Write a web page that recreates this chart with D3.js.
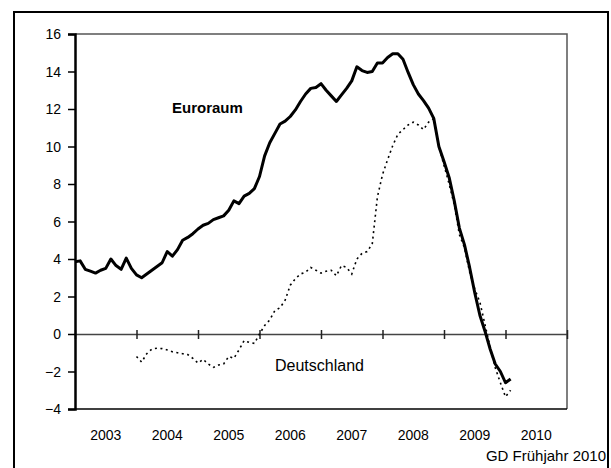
<!DOCTYPE html>
<html>
<head>
<meta charset="utf-8">
<script src="https://cdn.jsdelivr.net/npm/d3@7"></script>
<style>
    body { margin: 0; background: #fff; }
    text { font-family: "Liberation Sans", Arial, sans-serif; fill: #000; }
</style>
</head>
<body>
<div id="Chart_1"></div>
<script>
// years on the x axis, y tick values
let years = [2003, 2004, 2005, 2006, 2007, 2008, 2009, 2010];
let yTicks = [-4, -2, 0, 2, 4, 6, 8, 10, 12, 14, 16];

// monthly values, Euroraum from Jan 2003, Deutschland from Jan 2004
let euroStart = 2003;
let euroValues = [
    3.85, 3.9, 3.45, 3.35, 3.25, 3.4, 3.5, 4.0, 3.65, 3.45, 4.05, 3.5,
    3.15, 3.0, 3.2, 3.4, 3.6, 3.8, 4.4, 4.15, 4.5, 5.0, 5.15, 5.35,
    5.6, 5.8, 5.9, 6.1, 6.2, 6.3, 6.6, 7.1, 6.95, 7.35, 7.5, 7.75,
    8.4, 9.5, 10.2, 10.7, 11.2, 11.35, 11.6, 11.95, 12.4, 12.8, 13.1, 13.15,
    13.35, 13.0, 12.7, 12.4, 12.75, 13.1, 13.5, 14.25, 14.05, 13.95, 14.0, 14.45,
    14.45, 14.75, 14.95, 14.95, 14.65, 13.95, 13.3, 12.8, 12.45, 12.05, 11.5, 10.0,
    9.2, 8.35, 7.1, 5.65, 4.75, 3.55, 2.2, 1.0, 0.15, -0.8, -1.6, -2.0,
    -2.6, -2.4
];
let deStart = 2004;
let deValues = [
    -1.2, -1.5, -1.05, -0.8, -0.76, -0.78, -0.85, -0.95, -1.0, -1.05, -1.1, -1.3,
    -1.55, -1.35, -1.6, -1.78, -1.65, -1.6, -1.2, -1.3, -0.85, -0.35, -0.45, -0.5,
    0.0, 0.45, 0.75, 1.25, 1.4, 1.8, 2.6, 2.95, 3.2, 3.3, 3.55, 3.4,
    3.25, 3.35, 3.4, 3.1, 3.65, 3.55, 3.2, 4.0, 4.3, 4.4, 4.8, 7.3,
    8.5, 9.3, 10.05, 10.65, 10.9, 11.15, 11.3, 11.15, 10.9, 11.3, 11.5, 10.0,
    9.0, 8.0, 6.9, 5.3, 4.6, 3.3, 2.4, 1.7, 0.5, -0.7, -1.8, -2.6,
    -3.35, -3.0
];

draw_chart();

function draw_chart() {
    let width = 611,
        height = 468;
    let margin = {top: 34, right: 44, bottom: 59, left: 75};

    let svg = d3.select("#Chart_1")
        .append("svg")
        .attr("width", width)
        .attr("height", height);

    // outer frame
    svg.append("rect")
        .attr("x", 14)
        .attr("y", 12)
        .attr("width", 594)
        .attr("height", 470)
        .attr("fill", "none")
        .attr("stroke", "#000")
        .attr("stroke-width", 2);

    let xScale = d3.scaleLinear()
        .domain([2003, 2011])
        .range([margin.left, width - margin.right]);

    let yScale = d3.scaleLinear()
        .domain([-4, 16])
        .range([height - margin.bottom, margin.top]);

    // plot area border (top, right)
    svg.append("path")
        .attr("d", "M" + xScale(2003) + "," + yScale(16) + "H" + xScale(2011) + "V" + yScale(-4))
        .attr("fill", "none")
        .attr("stroke", "#555")
        .attr("stroke-width", 1.5);

    // zero line with year ticks
    let zeroAxis = d3.axisBottom(xScale)
        .tickValues(d3.range(2003, 2012))
        .tickSize(0)
        .tickFormat("");
    let zg = svg.append("g")
        .attr("transform", "translate(0," + yScale(0) + ")")
        .call(zeroAxis);
    zg.select(".domain")
        .attr("stroke", "#444")
        .attr("stroke-width", 1.5);
    zg.selectAll(".tick line")
        .attr("y1", -4)
        .attr("y2", 5)
        .attr("stroke", "#222")
        .attr("stroke-width", 1.5);

    // bottom axis line
    svg.append("line")
        .attr("x1", xScale(2003))
        .attr("x2", xScale(2011))
        .attr("y1", yScale(-4))
        .attr("y2", yScale(-4))
        .attr("stroke", "#000")
        .attr("stroke-width", 1.5);

    // y axis
    let yAxis = d3.axisLeft(yScale)
        .tickValues(yTicks)
        .tickSize(7)
        .tickPadding(7)
        .tickFormat(d3.format("d"));
    let yg = svg.append("g")
        .attr("transform", "translate(" + margin.left + ",0)")
        .call(yAxis);
    yg.select(".domain")
        .attr("stroke", "#000")
        .attr("stroke-width", 2.5);
    yg.selectAll(".tick line")
        .attr("stroke", "#000")
        .attr("stroke-width", 1.5);
    yg.selectAll(".tick text")
        .style("font-family", "Liberation Sans, Arial, sans-serif")
        .style("font-size", "14px")
        .attr("dy", "0.35em");

    // year labels centred in each year
    svg.selectAll(".yearlabel")
        .data(years)
        .enter()
        .append("text")
        .attr("class", "yearlabel")
        .attr("x", (d) => xScale(d + 0.5))
        .attr("y", 440)
        .attr("text-anchor", "middle")
        .style("font-size", "14px")
        .text((d) => d);

    let line = d3.line()
        .x((d) => xScale(d.t))
        .y((d) => yScale(d.v))
        .curve(d3.curveLinear);

    let euro = euroValues.map((v, i) => ({t: euroStart + i / 12, v: v}));
    let de = deValues.map((v, i) => ({t: deStart + i / 12, v: v}));

    svg.append("path")
        .datum(de)
        .attr("d", line)
        .attr("fill", "none")
        .attr("stroke", "#000")
        .attr("stroke-width", 1.6)
        .style("stroke-dasharray", ("2,3.5"));

    svg.append("path")
        .datum(euro)
        .attr("d", line)
        .attr("fill", "none")
        .attr("stroke", "#000")
        .attr("stroke-width", 3)
        .attr("stroke-linejoin", "round");

    svg.append("text")
        .text("Euroraum")
        .attr("x", 172)
        .attr("y", 113)
        .style("font-size", "15px")
        .style("font-weight", "bold");

    svg.append("text")
        .text("Deutschland")
        .attr("x", 275)
        .attr("y", 371)
        .style("font-size", "16px");

    svg.append("text")
        .text("GD Frühjahr 2010")
        .attr("x", 606)
        .attr("y", 461)
        .attr("text-anchor", "end")
        .style("font-size", "15px");
}
</script>
</body>
</html>
